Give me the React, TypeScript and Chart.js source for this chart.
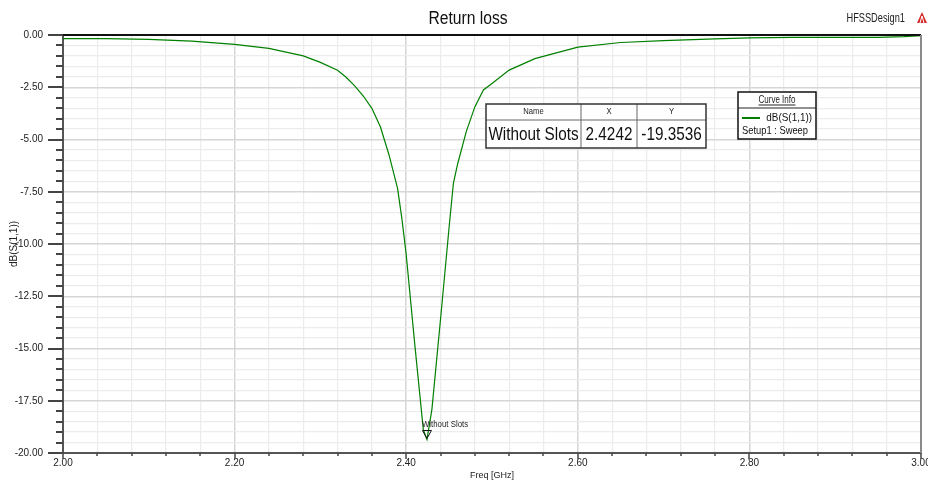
import React, { useEffect, useRef } from 'react';
import { Chart, registerables } from 'chart.js';

Chart.register(...registerables);

// ---- data ----
const freqGHz = [2.0, 2.05, 2.1, 2.15, 2.2, 2.24, 2.28, 2.3, 2.32, 2.33, 2.34, 2.35, 2.36, 2.37, 2.38, 2.39, 2.395, 2.4, 2.41, 2.42, 2.4242, 2.43, 2.44, 2.45, 2.455, 2.46, 2.47, 2.48, 2.49, 2.5, 2.52, 2.55, 2.6, 2.65, 2.7, 2.76, 2.8, 2.85, 2.9, 2.95, 2.98, 3.0];
const dbS11 = [-0.17, -0.17, -0.21, -0.29, -0.45, -0.64, -1.0, -1.31, -1.69, -2.02, -2.43, -2.92, -3.51, -4.4, -5.74, -7.35, -8.8, -10.5, -14.8, -18.9, -19.35, -17.9, -13.6, -9.2, -7.1, -6.16, -4.62, -3.44, -2.63, -2.32, -1.68, -1.13, -0.58, -0.36, -0.27, -0.19, -0.14, -0.11, -0.11, -0.11, -0.08, -0.03];

const markerName = 'Without Slots';
const markerX = 2.4242;
const markerY = -19.3536;
const tableHeaders = ['Name', 'X', 'Y'];
const tableValues = [markerName, markerX.toFixed(4), markerY.toFixed(4)];

const chartTitle = 'Return loss';
const designName = 'HFSSDesign1';
const xAxisTitle = 'Freq [GHz]';
const yAxisTitle = 'dB(S(1,1))';
const legendTitle = 'Curve Info';
const legendSeries = 'dB(S(1,1))';
const legendSetup = 'Setup1 : Sweep';

const xMin = 2.0;
const xMax = 3.0;
const xMinorStep = 0.04;
const xMajorStep = 0.2;
const yMin = -20;
const yMax = 0;
const yMinorStep = 0.5;
const yMajorStep = 2.5;

const FONT = '"Liberation Sans", Arial, Helvetica, sans-serif';
const GREEN = '#008000';

const isMultiple = (v: number, step: number) => Math.abs(v / step - Math.round(v / step)) < 1e-6;

function txt(ctx: CanvasRenderingContext2D, s: string, x: number, y: number, size: number, align: 'left' | 'center' | 'right', sx = 0.85, color = '#111') {
  ctx.save();
  ctx.font = `${size}px ${FONT}`;
  ctx.fillStyle = color;
  ctx.textBaseline = 'middle';
  ctx.textAlign = 'left';
  const w = ctx.measureText(s).width * sx;
  const x0 = align === 'left' ? x : align === 'center' ? x - w / 2 : x - w;
  ctx.translate(x0, y);
  ctx.scale(sx, 1);
  ctx.fillText(s, 0, 0);
  ctx.restore();
  return w;
}

const decorPlugin = {
  id: 'hfssDecor',
  afterDraw(chart: any) {
    const ctx: CanvasRenderingContext2D = chart.ctx;
    const { left, right, top, bottom } = chart.chartArea;
    const xs = chart.scales.x;
    const ys = chart.scales.y;

    ctx.save();
    // top and right frame
    ctx.strokeStyle = '#111';
    ctx.lineWidth = 2;
    ctx.beginPath();
    ctx.moveTo(left, top);
    ctx.lineTo(right, top);
    ctx.stroke();
    ctx.strokeStyle = '#8a8a8a';
    ctx.beginPath();
    ctx.moveTo(right, top);
    ctx.lineTo(right, bottom);
    ctx.stroke();

    // tick marks
    ctx.strokeStyle = '#444';
    ctx.lineWidth = 2;
    ys.ticks.forEach((t: any) => {
      const py = Math.round(ys.getPixelForValue(t.value));
      const len = isMultiple(t.value, yMajorStep) ? 15 : 7;
      ctx.beginPath();
      ctx.moveTo(left - len, py);
      ctx.lineTo(left, py);
      ctx.stroke();
    });
    ctx.lineWidth = 1.5;
    xs.ticks.forEach((t: any) => {
      const px = Math.round(xs.getPixelForValue(t.value));
      const len = isMultiple(t.value, xMajorStep) ? 6 : 3;
      ctx.beginPath();
      ctx.moveTo(px, bottom);
      ctx.lineTo(px, bottom + len);
      ctx.stroke();
    });

    // title texts
    txt(ctx, chartTitle, chart.width / 2 + 4, 19, 18, 'center', 0.87, '#111');
    txt(ctx, designName, 905, 19, 12, 'right', 0.77, '#222');
    // small red logo
    ctx.fillStyle = '#d42a2a';
    ctx.beginPath();
    ctx.moveTo(922, 12);
    ctx.lineTo(927, 23);
    ctx.lineTo(917, 23);
    ctx.closePath();
    ctx.fill();
    ctx.strokeStyle = '#fff';
    ctx.lineWidth = 1;
    ctx.beginPath();
    ctx.moveTo(922, 16);
    ctx.lineTo(920, 23);
    ctx.moveTo(922, 16);
    ctx.lineTo(924, 23);
    ctx.stroke();

    // marker
    const mx = xs.getPixelForValue(markerX);
    const my = ys.getPixelForValue(markerY);
    ctx.strokeStyle = '#111';
    ctx.lineWidth = 1;
    ctx.beginPath();
    ctx.moveTo(mx, my - 1);
    ctx.lineTo(mx - 4.5, my - 9);
    ctx.lineTo(mx + 4.5, my - 9);
    ctx.closePath();
    ctx.stroke();
    txt(ctx, markerName, mx - 5, my - 15, 9, 'left', 0.87, '#222');

    // marker table
    const tL = 486, tT = 104, tB = 148, tR = 706, hB = 120;
    const cols = [tL, 581, 637, tR];
    ctx.fillStyle = '#fff';
    ctx.fillRect(tL, tT, tR - tL, tB - tT);
    ctx.strokeStyle = '#666';
    ctx.lineWidth = 1;
    ctx.beginPath();
    ctx.moveTo(tL, hB);
    ctx.lineTo(tR, hB);
    ctx.moveTo(cols[1], tT);
    ctx.lineTo(cols[1], tB);
    ctx.moveTo(cols[2], tT);
    ctx.lineTo(cols[2], tB);
    ctx.stroke();
    ctx.strokeStyle = '#333';
    ctx.lineWidth = 1.5;
    ctx.strokeRect(tL, tT, tR - tL, tB - tT);
    for (let i = 0; i < 3; i++) {
      const cx = (cols[i] + cols[i + 1]) / 2;
      txt(ctx, tableHeaders[i], cx, (tT + hB) / 2, 9, 'center', 0.85, '#222');
      txt(ctx, tableValues[i], cx, (hB + tB) / 2 + 1, 18, 'center', 0.85, '#111');
    }

    // curve info legend
    const lL = 738, lT = 92, lR = 816, lB = 139;
    ctx.fillStyle = '#fff';
    ctx.fillRect(lL, lT, lR - lL, lB - lT);
    ctx.strokeStyle = '#111';
    ctx.lineWidth = 1.5;
    ctx.strokeRect(lL, lT, lR - lL, lB - lT);
    const lc = (lL + lR) / 2;
    const w = txt(ctx, legendTitle, lc, 100, 10, 'center', 0.8, '#222');
    ctx.lineWidth = 1;
    ctx.strokeStyle = '#222';
    ctx.beginPath();
    ctx.moveTo(lc - w / 2, 105);
    ctx.lineTo(lc + w / 2, 105);
    ctx.moveTo(lL, 108);
    ctx.lineTo(lR, 108);
    ctx.stroke();
    ctx.strokeStyle = GREEN;
    ctx.lineWidth = 2;
    ctx.beginPath();
    ctx.moveTo(742, 118);
    ctx.lineTo(760, 118);
    ctx.stroke();
    txt(ctx, legendSeries, 812, 118, 11, 'right', 0.9, '#111');
    txt(ctx, legendSetup, 742, 131, 11, 'left', 0.85, '#111');

    ctx.restore();
  },
};

export default function App() {
  const ref = useRef<HTMLCanvasElement | null>(null);

  useEffect(() => {
    if (!ref.current) return;
    const points = freqGHz.map((f, i) => ({ x: f, y: dbS11[i] }));
    const chart = new Chart(ref.current, {
      type: 'line',
      data: {
        datasets: [
          {
            label: legendSeries,
            data: points,
            borderColor: GREEN,
            borderWidth: 1.2,
            pointRadius: 0,
            tension: 0,
            fill: false,
          },
        ],
      },
      options: {
        responsive: false,
        animation: false,
        events: [],
        layout: { padding: { top: 35, right: 7, bottom: 0, left: 0 } },
        plugins: {
          legend: { display: false },
          title: { display: false },
          tooltip: { enabled: false },
        },
        scales: {
          x: {
            type: 'linear',
            min: xMin,
            max: xMax,
            afterFit: (s: any) => {
              s.height = 30;
              s.paddingLeft = 0;
              s.paddingRight = 0;
            },
            border: { display: true, color: '#555', width: 2 },
            grid: {
              drawTicks: false,
              color: (c: any) => (isMultiple(c.tick.value, xMajorStep) ? '#d6d6d6' : '#ececec'),
              lineWidth: (c: any) => (isMultiple(c.tick.value, xMajorStep) ? 1.5 : 1.2),
            },
            ticks: {
              stepSize: xMinorStep,
              autoSkip: false,
              maxRotation: 0,
              padding: 4,
              color: '#222',
              font: { family: FONT, size: 10 },
              callback: (v: any) => (isMultiple(Number(v), xMajorStep) ? Number(v).toFixed(2) : ''),
            },
            title: {
              display: true,
              text: xAxisTitle,
              color: '#222',
              font: { family: FONT, size: 9 },
              padding: { top: 0, bottom: 2 },
            },
          },
          y: {
            type: 'linear',
            min: yMin,
            max: yMax,
            afterFit: (s: any) => {
              s.width = 63;
              s.paddingTop = 0;
              s.paddingBottom = 0;
            },
            border: { display: true, color: '#555', width: 2 },
            grid: {
              drawTicks: false,
              color: (c: any) => (isMultiple(c.tick.value, yMajorStep) ? '#d6d6d6' : '#ececec'),
              lineWidth: (c: any) => (isMultiple(c.tick.value, yMajorStep) ? 1.5 : 1.2),
            },
            ticks: {
              stepSize: yMinorStep,
              autoSkip: false,
              padding: 20,
              color: '#222',
              font: { family: FONT, size: 10 },
              callback: (v: any) => (isMultiple(Number(v), yMajorStep) ? Number(v).toFixed(2) : ''),
            },
            title: {
              display: true,
              text: yAxisTitle,
              color: '#222',
              font: { family: FONT, size: 10 },
              padding: { top: 8, bottom: 0 },
            },
          },
        },
      },
      plugins: [decorPlugin],
    });
    return () => chart.destroy();
  }, []);

  return (
    <div style={{ position: 'absolute', left: 0, top: 0, width: 928, height: 483, background: '#fff' }}>
      <canvas ref={ref} width={928} height={483} style={{ display: 'block', width: 928, height: 483 }} />
    </div>
  );
}
